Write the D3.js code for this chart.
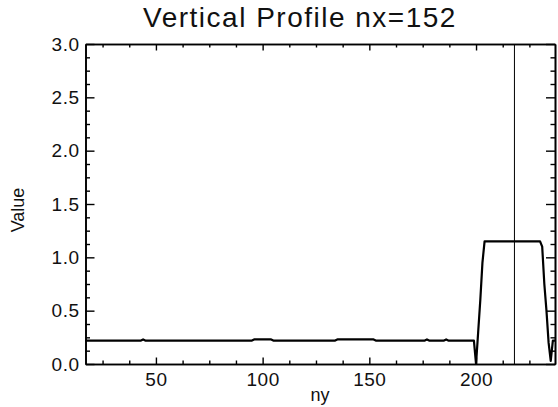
<!DOCTYPE html>
<html><head><meta charset="utf-8">
<script src="https://cdn.jsdelivr.net/npm/d3@7"></script>
<style>body{margin:0;background:#fff}svg{display:block}</style>
</head><body>
<script>
const titleText = "Vertical Profile nx=152";
const xLabel = "ny";
const yLabel = "Value";
const xDomain = [17, 237];
const yDomain = [0, 3];
const xMajorTicks = [50, 100, 150, 200];
const yMajorTicks = [0, 0.5, 1.0, 1.5, 2.0, 2.5, 3.0];
const xMinorStep = 12.5;
const yMinorStep = 0.125;
const markerNy = 218;
const profileNy = [17, 43, 44, 45, 95, 96, 104, 105, 134, 135, 152, 153, 176, 177, 178, 185, 186, 187, 199, 200, 201, 202, 203, 204, 230, 231, 232, 233, 234, 235, 236, 237];
const profileValue = [0.22, 0.22, 0.23, 0.22, 0.22, 0.23, 0.23, 0.22, 0.22, 0.23, 0.23, 0.22, 0.22, 0.23, 0.22, 0.22, 0.23, 0.22, 0.22, 0.0, 0.3, 0.6, 0.95, 1.15, 1.15, 1.1, 0.75, 0.5, 0.2, 0.03, 0.22, 0.22];

const W = 558, H = 407;
const m = {left: 85.5, right: 555, top: 44, bottom: 364};
const svg = d3.select("body").append("svg").attr("width", W).attr("height", H);
const x = d3.scaleLinear().domain(xDomain).range([m.left, m.right]);
const y = d3.scaleLinear().domain(yDomain).range([m.bottom, m.top]);
const font = "'Liberation Sans', Arial, sans-serif";

const range = (a, b, s) => { const r = []; for (let v = Math.ceil(a / s) * s; v <= b + 1e-9; v += s) r.push(+v.toFixed(6)); return r; };
const xMinor = range(xDomain[0], xDomain[1], xMinorStep).filter(v => !xMajorTicks.includes(v));
const yMinor = range(yDomain[0], yDomain[1], yMinorStep).filter(v => !yMajorTicks.some(t => Math.abs(t - v) < 1e-6));

const xLenMaj = 6.5, xLenMin = 3.5, yLenMaj = 9, yLenMin = 4.5;
// bottom axis
svg.append("g").attr("transform", `translate(0,${m.bottom})`)
  .call(d3.axisBottom(x).tickValues(xMajorTicks).tickSize(-xLenMaj).tickSizeOuter(0).tickPadding(9).tickFormat(d3.format("d")));
svg.append("g").attr("transform", `translate(0,${m.bottom})`)
  .call(d3.axisBottom(x).tickValues(xMinor).tickSize(-xLenMin).tickSizeOuter(0).tickFormat(""));
// top axis
svg.append("g").attr("transform", `translate(0,${m.top})`)
  .call(d3.axisTop(x).tickValues(xMajorTicks).tickSize(-xLenMaj).tickSizeOuter(0).tickFormat(""));
svg.append("g").attr("transform", `translate(0,${m.top})`)
  .call(d3.axisTop(x).tickValues(xMinor).tickSize(-xLenMin).tickSizeOuter(0).tickFormat(""));
// left axis
svg.append("g").attr("transform", `translate(${m.left},0)`)
  .call(d3.axisLeft(y).tickValues(yMajorTicks).tickSize(-yLenMaj).tickSizeOuter(0).tickPadding(6).tickFormat(d3.format(".1f")));
svg.append("g").attr("transform", `translate(${m.left},0)`)
  .call(d3.axisLeft(y).tickValues(yMinor).tickSize(-yLenMin).tickSizeOuter(0).tickFormat(""));
// right axis
svg.append("g").attr("transform", `translate(${m.right},0)`)
  .call(d3.axisRight(y).tickValues(yMajorTicks).tickSize(-yLenMaj).tickSizeOuter(0).tickFormat(""));
svg.append("g").attr("transform", `translate(${m.right},0)`)
  .call(d3.axisRight(y).tickValues(yMinor).tickSize(-yLenMin).tickSizeOuter(0).tickFormat(""));

svg.selectAll(".domain").attr("stroke", "#000").attr("stroke-width", 1.6);
svg.selectAll(".tick line").attr("stroke", "#000").attr("stroke-width", 1.4);
svg.selectAll(".tick text").attr("font-family", font).attr("font-size", 19).attr("fill", "#111").attr("letter-spacing", 0.5);

// marker vertical line
svg.append("line").attr("x1", x(markerNy)).attr("x2", x(markerNy))
  .attr("y1", m.top).attr("y2", m.bottom).attr("stroke", "#000").attr("stroke-width", 1);

// profile
const pts = profileNy.map((n, i) => [n, profileValue[i]]);
svg.append("path").datum(pts)
  .attr("d", d3.line().x(d => x(d[0])).y(d => y(d[1])))
  .attr("fill", "none").attr("stroke", "#000").attr("stroke-width", 2.2).attr("stroke-linejoin", "round");

// title
svg.append("text").attr("x", 300).attr("y", 27).attr("text-anchor", "middle")
  .attr("font-family", font).attr("font-size", 28).attr("letter-spacing", 1.5).attr("fill", "#111").text(titleText);
// axis titles
svg.append("text").attr("x", 320).attr("y", 401).attr("text-anchor", "middle")
  .attr("font-family", font).attr("font-size", 18).attr("fill", "#111").text(xLabel);
svg.append("text").attr("transform", `translate(24,${(m.top + m.bottom) / 2 + 6}) rotate(-90)`)
  .attr("text-anchor", "middle").attr("font-family", font).attr("font-size", 18).attr("fill", "#111").text(yLabel);
</script>
</body></html>
